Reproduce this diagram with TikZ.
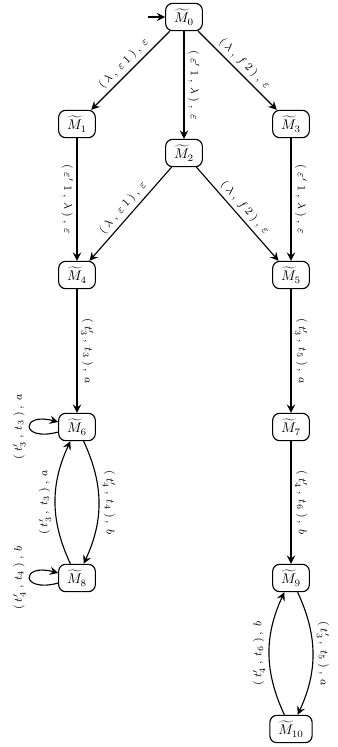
\documentclass[tikz,border=0pt]{standalone}
\usetikzlibrary{arrows.meta}
\newcommand{\lblsp}{\kern2.2pt}
\newcommand{\tlab}[3]{$(\lblsp t'_{#1}\lblsp,\lblsp t_{#2}\lblsp)\lblsp,\lblsp #3$}
\newcommand{\labA}{$(\lblsp\lambda\lblsp,\lblsp\varepsilon\lblsp 1\lblsp)\lblsp,\lblsp\varepsilon$}
\newcommand{\labB}{$(\lblsp\varepsilon'\lblsp 1\lblsp,\lblsp\lambda\lblsp)\lblsp,\lblsp\varepsilon$}
\newcommand{\labC}{$(\lblsp\lambda\lblsp,\lblsp f\lblsp 2\lblsp)\lblsp,\lblsp\varepsilon$}
\begin{document}
\begin{tikzpicture}[x=0.714pt, y=-0.714pt,
  st/.style={draw, rounded corners=5pt, inner xsep=6pt, inner ysep=4pt, line width=0.8pt},
  tr/.style={-{Stealth[length=6pt,width=6pt,inset=2.2pt]}, line width=0.8pt},
  lb/.style={font=\footnotesize, sloped, inner sep=2.5pt}]
\useasboundingbox (0,0) rectangle (338,747);
\node[st] (M0) at (184,17) {$\widetilde{M}_{0}$};
\node[st] (M1) at (77,124) {$\widetilde{M}_{1}$};
\node[st] (M2) at (184,153) {$\widetilde{M}_{2}$};
\node[st] (M3) at (291,124) {$\widetilde{M}_{3}$};
\node[st] (M4) at (77,275) {$\widetilde{M}_{4}$};
\node[st] (M5) at (291,275) {$\widetilde{M}_{5}$};
\node[st] (M6) at (77,427) {$\widetilde{M}_{6}$};
\node[st] (M7) at (291,427) {$\widetilde{M}_{7}$};
\node[st] (M8) at (77,578) {$\widetilde{M}_{8}$};
\node[st] (M9) at (291,578) {$\widetilde{M}_{9}$};
\node[st] (M10) at (291,729) {$\widetilde{M}_{10}$};
\coordinate (init) at (148,17);
\draw[tr] (init) -- (M0);
\draw[tr] (M0) -- node[lb, auto] {\labA} (M1);
\draw[tr] (M0) -- node[lb, auto] {\labB} (M2);
\draw[tr] (M0) -- node[lb, auto] {\labC} (M3);
\draw[tr] (M1) -- node[lb, auto, swap] {\labB} (M4);
\draw[tr] (M2) -- node[lb, auto] {\labA} (M4);
\draw[tr] (M2) -- node[lb, auto] {\labC} (M5);
\draw[tr] (M3) -- node[lb, auto] {\labB} (M5);
\draw[tr] (M4) -- node[lb, auto] {\tlab{3}{3}{a}} (M6);
\draw[tr] (M5) -- node[lb, auto] {\tlab{3}{5}{a}} (M7);
\draw[tr] (M7) -- node[lb, auto] {\tlab{4}{6}{b}} (M9);
\draw[tr] (M6) to[loop left, min distance=28pt] node[lb, auto] {\tlab{3}{3}{a}} (M6);
\draw[tr] (M8) to[loop left, min distance=28pt] node[lb, auto] {\tlab{4}{4}{b}} (M8);
\draw[tr] (M6) to[bend left=25] node[lb, auto] {\tlab{4}{4}{b}} (M8);
\draw[tr] (M8) to[bend left=25] node[lb, auto] {\tlab{3}{3}{a}} (M6);
\draw[tr] (M9) to[bend left=25] node[lb, auto] {\tlab{3}{5}{a}} (M10);
\draw[tr] (M10) to[bend left=25] node[lb, auto] {\tlab{4}{6}{b}} (M9);
\end{tikzpicture}
\end{document}
